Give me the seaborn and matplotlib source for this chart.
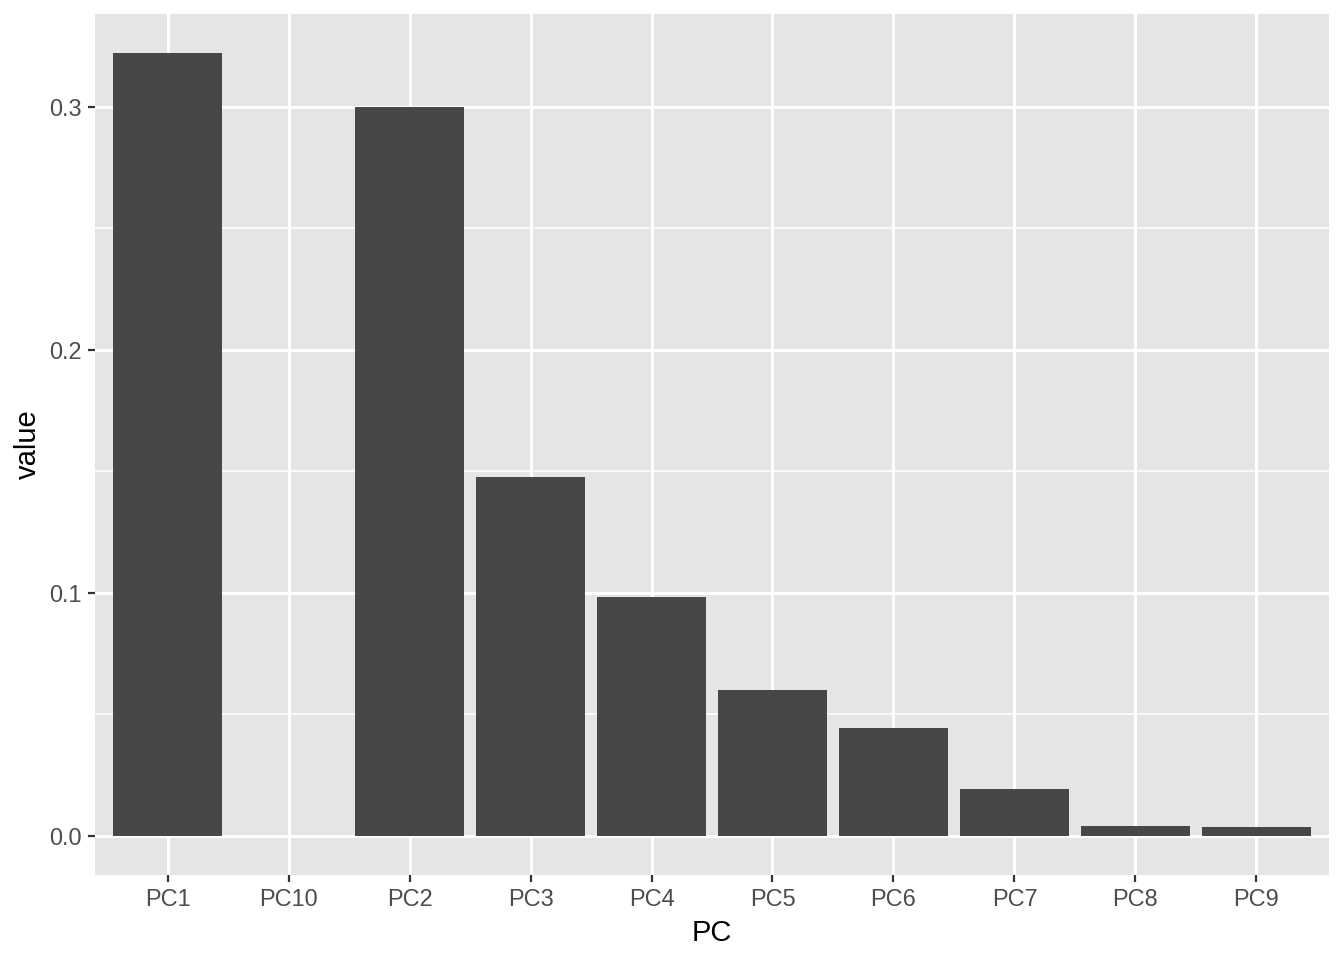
import matplotlib
matplotlib.use("Agg")
import matplotlib.pyplot as plt
import seaborn as sns
import pandas as pd
from matplotlib.ticker import MultipleLocator

# data (ggplot sorts PC labels alphabetically)
pcs = ["PC1", "PC10", "PC2", "PC3", "PC4", "PC5", "PC6", "PC7", "PC8", "PC9"]
values = [0.322, 0.0, 0.300, 0.1476, 0.0981, 0.0602, 0.0445, 0.0192, 0.0039, 0.0035]

df = pd.DataFrame({"PC": pcs, "value": values})

sns.set_style("darkgrid", {"axes.facecolor": "#E5E5E5", "grid.color": "white"})
plt.rcParams["font.family"] = ["Liberation Sans", "DejaVu Sans"]

fig = plt.figure(figsize=(13.44, 9.6), dpi=100)
ax = fig.add_axes([95 / 1344, 1 - 875 / 960, (1329 - 95) / 1344, (875 - 14) / 960])

sns.barplot(data=df, x="PC", y="value", order=pcs, color="#474747",
            saturation=1, width=0.9, linewidth=0, edgecolor="none", ax=ax, zorder=3)

ax.set_xlim(-0.6, len(pcs) - 0.4)
ymax = max(values)
ax.set_ylim(-0.05 * ymax, ymax * 1.05)

ax.yaxis.set_minor_locator(MultipleLocator(0.05))
ax.set_yticks([0.0, 0.1, 0.2, 0.3])
ax.set_yticklabels(["0.0", "0.1", "0.2", "0.3"])

ax.grid(which="major", color="white", linewidth=2.2)
ax.grid(which="minor", axis="y", color="white", linewidth=1.1)
ax.set_axisbelow(True)
for s in ax.spines.values():
    s.set_visible(False)

ax.tick_params(axis="both", which="major", length=5.3, width=1.6, color="#333333",
               labelsize=16.9, labelcolor="#4D4D4D", pad=4.2, bottom=True, left=True)
ax.tick_params(axis="y", which="minor", length=0)

ax.set_xlabel("PC", fontsize=21, color="black", labelpad=5.3)
ax.set_ylabel("value", fontsize=21, color="black", labelpad=5.3)

fig.savefig("out.png", dpi=100, facecolor="white")
